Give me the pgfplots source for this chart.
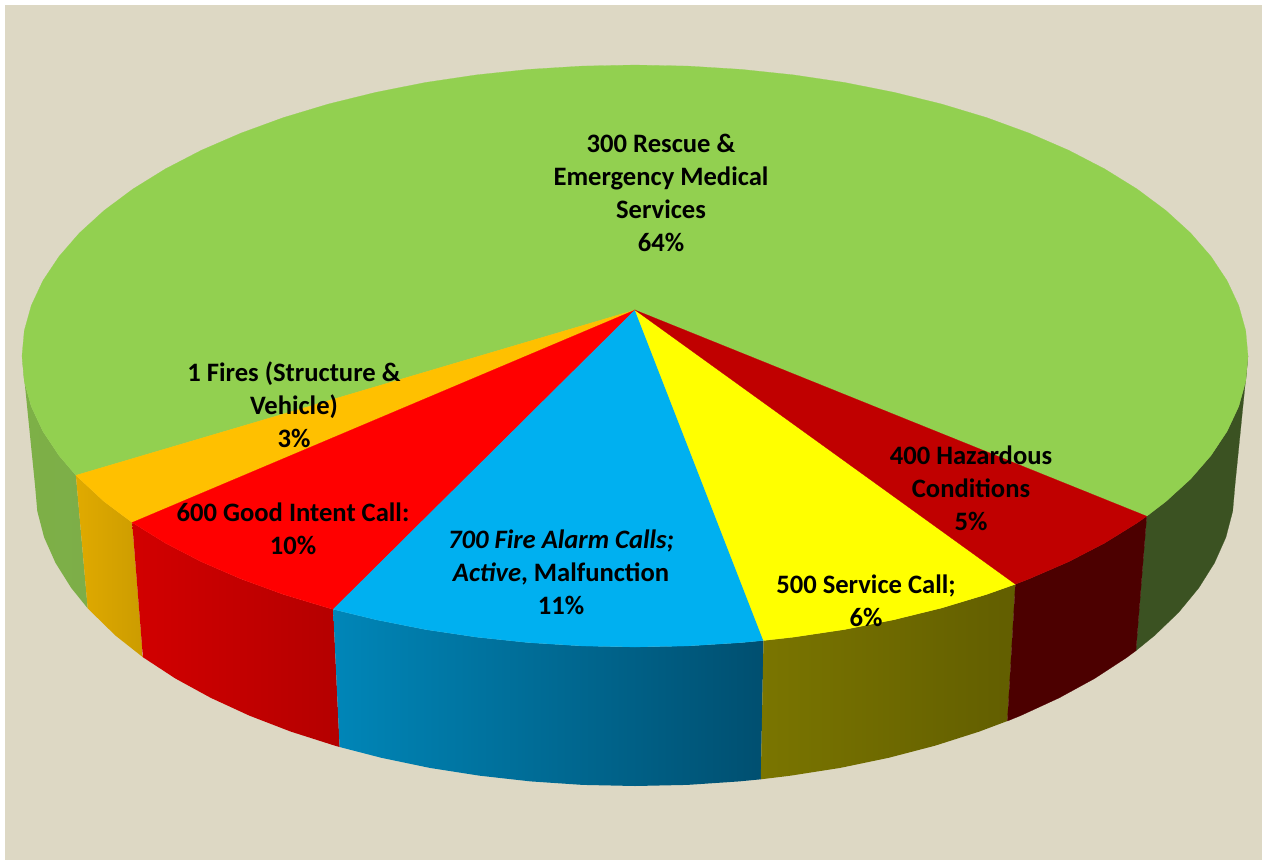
\documentclass[border=0pt]{standalone}
\usepackage{pgfplots}
\pgfplotsset{compat=1.18}
\usepackage{fontspec}
\setmainfont{Carlito}
\definecolor{bg}{HTML}{DDD8C4}
\definecolor{cgreen}{HTML}{92D050}
\definecolor{corange}{HTML}{FFC000}
\definecolor{cred}{HTML}{FF0000}
\definecolor{cblue}{HTML}{00B0F0}
\definecolor{cyellow}{HTML}{FFFF00}
\definecolor{cdark}{HTML}{C00000}
\definecolor{sgreenR}{HTML}{3B5222}
\definecolor{sgreenLa}{HTML}{7DB047}
\definecolor{sgreenLb}{HTML}{7DAE48}
\definecolor{soranA}{HTML}{E0AA00}
\definecolor{soranB}{HTML}{CC9C00}
\definecolor{sredA}{HTML}{D20000}
\definecolor{sredB}{HTML}{B40000}
\definecolor{sblueA}{HTML}{0086B8}
\definecolor{sblueB}{HTML}{004F70}
\definecolor{syelA}{HTML}{7A7500}
\definecolor{syelB}{HTML}{625E00}
\definecolor{sdark}{HTML}{4C0000}
\tikzset{lab/.style={align=center,font=\fontsize{26.6}{33}\selectfont\bfseries,text=black,inner sep=0pt}}
\begin{document}
\begin{tikzpicture}
\begin{axis}[hide axis,scale only axis,width=1262pt,height=860pt,
  xmin=0,xmax=1262,ymin=0,ymax=860,y dir=reverse,clip=false]
% page and background
\addplot[fill=white,draw=none] coordinates {(0,0)(1262,0)(1262,860)(0,860)} --cycle;
\addplot[fill=bg,draw=none] coordinates {(5,5)(1262,5)(1262,860)(5,860)} --cycle;
% side faces
\addplot[fill=sgreenR,draw=sgreenR,line width=.2pt] coordinates {(1248,356)(1245.7,381.4)(1238.7,406.5)(1227.1,431.3)(1211,455.5)(1190.6,479)(1165.9,501.5)(1146.7,516.2)
 (1135.9,650.7)(1154.6,635.5)(1178.8,612.2)(1198.8,587.9)(1214.5,562.9)(1225.9,537.3)(1232.7,511.2)(1235,485)} --cycle;
\addplot[draw=none,shade,left color=sgreenLa,right color=sgreenLb] coordinates {(22,356)(24.3,381.4)(31.3,406.5)(42.9,431.3)(59,455.5)(75.9,475.3)
 (87.7,608.4)(71.2,587.9)(55.5,562.9)(44.1,537.3)(37.3,511.2)(35,485)} --cycle;
\addplot[draw=none,shade,left color=soranA,right color=soranB] coordinates {(75.9,475.3)(104.1,501.5)(132.2,522.5)
 (142.9,657.2)(115.4,635.5)(87.7,608.4)} --cycle;
\addplot[draw=none,shade,left color=sredA,right color=sredB] coordinates {(132.2,522.5)(165.4,543.1)(201.5,561.8)(241,578.9)(283.4,594.4)(328.5,608)(333.2,609.3)
 (339.6,747)(335,745.7)(290.8,731.6)(249.3,715.6)(210.7,697.8)(175.4,678.5)(142.9,657.2)} --cycle;
\addplot[draw=none,shade,left color=sblueA,right color=sblueB] coordinates {(333.2,609.3)(376,619.7)(425.4,629.5)(476.4,637.1)(528.6,642.6)(581.5,645.9)(635,647)(688.5,645.9)(741.4,642.6)(763.5,640.5)
 (760.8,779.3)(739.2,781.4)(687.3,784.9)(635,786)(582.7,784.9)(530.8,781.4)(479.7,775.7)(429.8,767.9)(381.4,757.8)(339.6,747)} --cycle;
\addplot[draw=none,shade,left color=syelA,right color=syelB] coordinates {(763.5,640.5)(793.6,637.1)(844.6,629.5)(894,619.7)(941.5,608)(986.6,594.4)(1015.4,584.2)
 (1007.4,721)(979.2,731.6)(935,745.7)(888.6,757.8)(840.2,767.9)(790.3,775.7)(760.8,779.3)} --cycle;
\addplot[fill=sdark,draw=sdark,line width=.2pt] coordinates {(1015.4,584.2)(1029,578.9)(1068.5,561.8)(1104.6,543.1)(1137.2,522.9)(1146.7,516.2)
 (1135.9,650.7)(1126.5,657.7)(1094.6,678.5)(1059.3,697.8)(1020.7,715.6)(1007.4,721)} --cycle;
% top faces
\addplot[fill=cgreen,draw=cgreen,line width=.2pt] coordinates {(635,310)(75.9,475.3)(59,455.5)(42.9,431.3)(31.3,406.5)(24.3,381.4)(22,356)
 (24.3,330.6)(31.3,305.5)(42.9,280.7)(59,256.5)(79.4,233)(104.1,210.5)(132.8,189.1)(165.4,168.9)(201.5,150.2)(241,133.1)(283.4,117.6)(328.5,104)(376,92.3)(425.4,82.5)(476.4,74.9)(528.6,69.4)(581.5,66.1)(635,65)
 (688.5,66.1)(741.4,69.4)(793.6,74.9)(844.6,82.5)(894,92.3)(941.5,104)(986.6,117.6)(1029,133.1)(1068.5,150.2)(1104.6,168.9)(1137.2,189.1)(1165.9,210.5)(1190.6,233)(1211,256.5)(1227.1,280.7)(1238.7,305.5)(1245.7,330.6)(1248,356)
 (1245.7,381.4)(1238.7,406.5)(1227.1,431.3)(1211,455.5)(1190.6,479)(1165.9,501.5)(1146.7,516.2)} --cycle;
\addplot[fill=corange,draw=corange,line width=.2pt] coordinates {(635,310)(132.2,522.5)(104.1,501.5)(75.9,475.3)} --cycle;
\addplot[fill=cred,draw=cred,line width=.2pt] coordinates {(635,310)(333.2,609.3)(328.5,608)(283.4,594.4)(241,578.9)(201.5,561.8)(165.4,543.1)(132.2,522.5)} --cycle;
\addplot[fill=cblue,draw=cblue,line width=.2pt] coordinates {(635,310)(763.5,640.5)(741.4,642.6)(688.5,645.9)(635,647)(581.5,645.9)(528.6,642.6)(476.4,637.1)(425.4,629.5)(376,619.7)(333.2,609.3)} --cycle;
\addplot[fill=cyellow,draw=cyellow,line width=.2pt] coordinates {(635,310)(1015.4,584.2)(986.6,594.4)(941.5,608)(894,619.7)(844.6,629.5)(793.6,637.1)(763.5,640.5)} --cycle;
\addplot[fill=cdark,draw=cdark,line width=.2pt] coordinates {(635,310)(1146.7,516.2)(1137.2,522.9)(1104.6,543.1)(1068.5,561.8)(1029,578.9)(1015.4,584.2)} --cycle;
% labels
\node[lab] at (axis cs:661,193) {300 Rescue \&\\Emergency Medical\\Services\\64\%};
\node[lab] at (axis cs:294,405) {1 Fires (Structure \&\\Vehicle)\\3\%};
\node[lab] at (axis cs:293,529) {600 Good Intent Call:\\10\%};
\node[lab] at (axis cs:561,572) {\itshape 700 Fire Alarm Calls;\\\itshape Active\upshape, Malfunction\\11\%};
\node[lab] at (axis cs:866,601) {500 Service Call;\\6\%};
\node[lab] at (axis cs:971,488) {400 Hazardous\\Conditions\\5\%};
\end{axis}
\end{tikzpicture}
\end{document}
